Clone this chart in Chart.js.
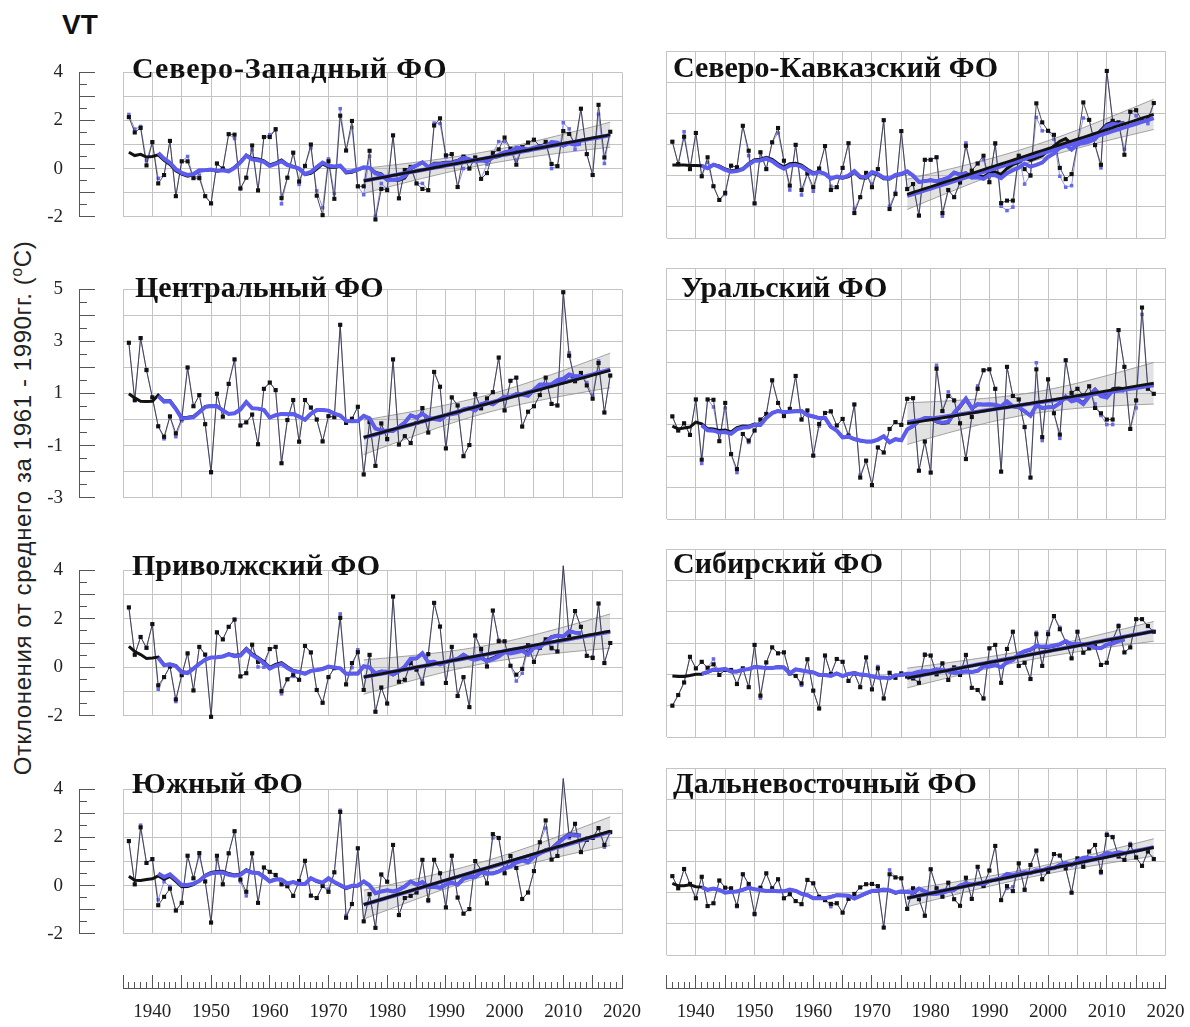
<!DOCTYPE html>
<html>
<head>
<meta charset="utf-8">
<script src="https://cdn.jsdelivr.net/npm/chart.js@4.4.1/dist/chart.umd.min.js"></script>
<style>
  html, body { margin: 0; padding: 0; background: #fff; }
  body { width: 1190px; height: 1027px; position: relative; overflow: hidden; }
  canvas { position: absolute; }
  .ttl { position: absolute; font: bold 30px "Liberation Serif", "Times New Roman", serif; line-height: 30px; white-space: nowrap; color: #111; }
  .vt { position: absolute; left: 62px; top: 11px; font: bold 28px "Liberation Sans", Arial, sans-serif; line-height: 28px; color: #111; }
  .ytitle { position: absolute; left: 22px; top: 508px; transform: translate(-50%, -50%) rotate(-90deg); white-space: nowrap;
            font: 24px "Liberation Sans", Arial, sans-serif; letter-spacing: 0.6px; color: #222; }
  .ytitle sup { font-size: 0.65em; }
</style>
</head>
<body>
<div class="vt">VT</div>
<div class="ytitle">Отклонения от среднего за 1961 - 1990гг. (<sup>о</sup>С)</div>
<script>
// Годы наблюдений
const years = [1936,1937,1938,1939,1940,1941,1942,1943,1944,1945,
  1946,1947,1948,1949,1950,1951,1952,1953,1954,1955,
  1956,1957,1958,1959,1960,1961,1962,1963,1964,1965,
  1966,1967,1968,1969,1970,1971,1972,1973,1974,1975,
  1976,1977,1978,1979,1980,1981,1982,1983,1984,1985,
  1986,1987,1988,1989,1990,1991,1992,1993,1994,1995,
  1996,1997,1998,1999,2000,2001,2002,2003,2004,2005,
  2006,2007,2008,2009,2010,2011,2012,2013,2014,2015,
  2016,2017,2018];

// Северо-Западный ФО
const nwBlack = [2.14,1.5,1.69,0.13,1.1,-0.62,-0.27,1.15,-1.15,0.3,
  0.3,-0.4,-0.4,-1.15,-1.45,0.21,0.0,1.43,1.41,-0.83,
  -0.38,0.96,-0.91,1.31,1.31,1.64,-1.23,-0.38,0.66,-0.54,
  0.11,1.0,-1.13,-1.94,0.3,-1.26,2.2,0.75,1.98,-0.74,
  -0.74,0.74,-2.12,-0.85,-0.9,1.38,-1.24,-0.06,0.07,-0.62,
  -0.85,-0.9,1.79,2.09,0.55,0.6,-0.77,0.5,0.0,0.46,
  -0.43,-0.19,0.64,0.8,1.29,0.82,0.16,0.89,1.08,1.2,
  0.93,1.11,0.19,0.1,1.56,1.44,1.04,2.49,0.6,-0.27,
  2.65,0.46,1.53];
const nwBlue = [2.25,1.64,1.75,0.34,1.1,-0.41,-0.27,1.15,-1.15,0.3,
  0.5,-0.4,-0.27,-1.15,-1.45,0.21,0.0,1.43,1.25,-0.83,
  -0.38,0.78,-0.91,1.31,1.41,1.6,-1.47,-0.38,0.66,-0.66,
  0.11,0.86,-0.93,-1.63,0.4,-1.04,2.49,0.75,1.71,-0.74,
  -1.09,0.51,-1.98,-0.62,-0.85,1.38,-1.24,-0.06,0.07,-0.62,
  -0.62,-0.9,1.89,1.87,0.48,0.6,-0.77,0.0,0.0,0.46,
  -0.43,0.18,0.64,1.12,1.12,0.82,0.35,0.89,1.08,1.2,
  0.93,1.11,0.0,0.1,1.91,1.65,0.8,2.49,0.6,-0.27,
  2.26,0.21,1.53];
const nwHead = [0.68,0.54,0.59,0.48,0.5];

// Центральный ФО
const cenBlack = [2.95,0.75,3.13,1.9,0.85,-0.26,-0.66,0.12,-0.53,0.03,
  2.0,0.51,0.94,-0.18,-2.02,0.99,0.11,1.37,2.31,-0.23,
  -0.11,0.19,-0.95,1.18,1.42,1.13,-1.68,-0.02,0.75,-0.85,
  0.75,0.46,0.0,-0.84,0.13,0.09,3.64,-0.13,0.03,0.49,
  -2.11,-0.1,-1.78,-0.15,-0.75,2.31,-0.96,-0.64,-0.9,-0.13,
  0.44,-0.5,1.83,1.26,-1.11,0.85,0.54,-1.41,-0.98,0.97,
  0.43,0.81,1.05,2.38,0.35,1.49,1.61,-0.27,0.3,0.51,
  0.94,1.61,0.6,0.54,4.89,2.45,1.47,1.79,1.31,0.8,
  2.17,0.27,1.69];
const cenBlue = [2.95,0.72,3.13,1.9,0.85,-0.26,-0.74,0.12,-0.66,-0.05,
  2.0,0.51,0.94,-0.18,-2.05,0.99,0.11,1.37,2.31,-0.23,
  -0.11,0.19,-0.95,1.18,1.42,1.13,-1.68,-0.02,0.75,-0.85,
  0.75,0.46,0.0,-0.84,0.13,0.09,3.64,-0.13,0.03,0.49,
  -2.11,-0.1,-1.78,-0.15,-0.78,2.31,-0.96,-0.64,-0.9,-0.13,
  0.44,-0.5,1.83,1.26,-1.11,0.85,0.54,-1.41,-0.98,0.97,
  0.43,0.81,1.05,2.38,0.35,1.49,1.61,-0.27,0.3,0.51,
  0.94,1.61,0.6,0.54,4.89,2.56,1.47,1.79,1.42,0.94,
  2.25,0.27,1.69];
const cenHead = [0.99,0.83,0.7,0.69,0.7];

// Приволжский ФО
const volBlack = [2.47,0.52,1.25,0.8,1.78,-0.75,-0.41,0.03,-1.33,-0.33,
  0.57,-0.96,0.84,0.52,-2.05,1.44,1.15,1.67,1.97,-0.38,
  -0.25,0.93,0.22,0.19,0.75,0.84,-0.99,-0.5,-0.31,-0.52,
  0.88,0.61,-0.94,-1.47,-0.41,-0.04,2.04,-0.71,0.17,0.62,
  -0.94,0.51,-1.84,-0.84,-1.5,2.92,-0.6,-0.52,0.17,-0.1,
  -0.68,0.54,2.66,1.68,-0.65,0.84,-1.19,-0.41,-1.65,1.31,
  0.75,0.03,2.34,1.07,1.07,0.06,-0.31,-0.07,0.91,0.22,
  0.8,1.15,0.8,0.65,4.19,1.28,2.32,1.67,0.47,0.38,
  2.63,0.17,1.0];
const volBlue = [2.47,0.49,1.25,0.8,1.78,-0.91,-0.41,0.03,-1.42,-0.33,
  0.57,-0.96,0.84,0.52,-2.05,1.44,1.15,1.67,1.97,-0.38,
  -0.25,0.93,0.01,0.0,0.75,0.84,-1.1,-0.5,-0.38,-0.52,
  0.88,0.61,-0.94,-1.47,-0.41,-0.04,2.2,-0.71,-0.02,0.72,
  -0.94,0.51,-1.84,-0.84,-1.5,2.92,-0.6,-0.52,0.17,-0.1,
  -0.57,0.54,2.66,1.68,-0.65,0.84,-1.19,-0.41,-1.65,1.31,
  0.65,0.03,2.34,1.12,1.07,0.06,-0.57,-0.25,0.8,0.22,
  0.8,1.15,0.75,0.65,4.19,1.28,2.32,1.67,0.47,0.43,
  2.63,0.17,1.0];
const volHead = [0.86,0.65,0.52,0.36,0.38];

// Южный ФО
const southBlack = [1.85,0.05,2.42,0.94,1.1,-0.82,-0.47,-0.13,-1.04,-0.72,
  1.24,0.3,1.35,0.17,-1.54,1.24,0.05,1.34,2.26,0.25,
  -0.26,1.34,-0.72,0.75,0.57,0.44,0.05,-0.03,-0.43,0.19,
  1.03,-0.42,-0.52,-0.02,-0.26,0.55,3.06,-1.34,-0.77,1.55,
  -1.49,-0.36,-1.76,0.46,0.16,1.69,-1.23,-0.52,-0.43,-0.29,
  1.07,-0.61,1.07,0.51,-0.91,1.24,-0.5,-1.17,-0.98,1.02,
  0.65,0.09,2.14,1.98,0.51,1.23,0.73,-0.56,-0.29,0.6,
  1.8,2.71,1.08,1.23,4.45,2.06,2.57,1.39,1.9,1.98,
  2.39,1.69,2.22];
const southBlue = [1.85,0.05,2.51,0.94,1.1,-0.59,0.16,-0.04,-1.04,-0.72,
  1.24,0.3,1.23,0.17,-1.54,1.08,0.05,1.34,2.26,0.16,
  -0.43,1.34,-0.72,0.75,0.57,0.44,0.05,-0.03,-0.43,0.19,
  1.03,-0.42,-0.52,-0.02,-0.15,0.55,3.13,-1.25,-0.77,1.55,
  -1.49,-0.36,-1.76,0.46,0.16,1.69,-1.23,-0.52,-0.43,-0.29,
  1.07,-0.66,1.07,0.51,-0.91,1.24,-0.5,-1.17,-0.98,1.02,
  0.65,0.09,1.98,1.98,0.51,1.23,0.73,-0.56,-0.29,0.6,
  1.8,2.39,1.08,1.23,4.45,1.98,2.57,1.39,1.98,1.98,
  2.39,1.6,2.22];
const southHead = [0.39,0.22,0.21,0.25,0.28];

// Северо-Кавказский ФО
const ncBlack = [1.09,0.37,1.25,0.21,1.37,-0.02,0.59,-0.34,-0.78,-0.55,
  0.32,0.27,1.6,0.8,-0.89,0.75,0.21,1.07,1.53,0.48,
  -0.32,0.99,-0.46,0.07,-0.37,0.23,0.95,-0.46,-0.37,0.25,
  1.04,-1.2,-0.69,0.09,-0.37,0.21,1.78,-1.07,-0.59,1.43,
  -0.43,-0.27,-1.28,0.51,0.51,0.59,-1.2,-0.46,-0.69,-0.22,
  0.96,0.16,0.39,0.64,-0.21,1.04,-0.88,-0.8,-0.8,0.64,
  0.21,0.0,2.32,1.71,1.44,1.31,0.25,-0.11,0.05,1.01,
  2.35,1.79,0.98,0.35,3.36,1.76,1.71,0.67,2.05,2.1,
  1.76,1.81,2.33];
const ncBlue = [1.09,0.37,1.41,0.21,1.37,-0.02,0.43,-0.34,-0.78,-0.6,
  0.32,0.27,1.6,0.64,-0.89,0.75,0.21,1.07,1.37,0.48,
  -0.46,0.99,-0.62,0.07,-0.5,0.23,0.95,-0.34,-0.37,0.25,
  1.04,-1.07,-0.69,0.09,-0.27,0.21,1.78,-0.98,-0.54,1.43,
  -0.43,-0.27,-1.28,0.51,0.51,0.59,-1.3,-0.46,-0.69,-0.22,
  1.05,0.16,0.39,0.51,-0.21,1.01,-0.98,-1.12,-1.01,0.64,
  -0.27,0.03,1.87,1.44,1.44,1.17,-0.02,-0.37,-0.32,1.01,
  1.85,1.79,0.98,0.25,3.36,1.76,1.71,0.85,2.05,1.92,
  1.76,1.67,2.33];
const ncHead = [0.34,0.34,0.34,0.33,0.33];

// Уральский ФО
const uralBlack = [0.27,-0.18,0.05,-0.32,0.81,-1.11,0.81,0.8,-0.52,0.7,
  -0.93,-1.41,-0.29,-0.5,-0.18,0.17,0.35,1.42,0.7,0.28,
  0.51,1.56,0.17,0.46,-0.98,0.03,0.38,0.43,-0.02,0.19,
  -0.34,0.65,-1.68,-1.14,-1.92,-0.72,-0.88,-0.13,0.09,0.0,
  0.83,0.85,-1.46,-0.53,-1.52,1.79,0.44,0.92,0.78,0.05,
  -1.09,0.25,1.15,1.74,1.77,1.15,-1.49,1.85,0.92,0.81,
  -0.07,-1.68,1.77,-0.39,1.45,0.37,-0.31,2.06,1.02,1.15,
  0.94,1.23,0.54,0.37,0.17,0.17,3.02,1.85,-0.13,0.78,
  3.74,1.15,0.99];
const uralBlue = [0.27,-0.18,0.05,-0.32,0.81,-1.23,0.81,0.57,-0.52,0.54,
  -0.93,-1.52,-0.29,-0.56,-0.18,0.17,0.35,1.42,0.7,0.28,
  0.51,1.56,0.17,0.46,-0.98,-0.04,0.38,0.43,-0.02,0.19,
  -0.34,0.65,-1.6,-1.14,-1.92,-0.72,-0.88,-0.13,0.09,0.0,
  0.83,0.85,-1.46,-0.53,-1.52,1.9,0.44,1.05,0.78,0.05,
  -1.09,0.25,1.24,1.74,1.77,1.15,-1.49,1.85,0.92,0.81,
  -0.07,-1.68,1.98,-0.5,1.45,0.37,-0.43,2.06,1.02,1.15,
  0.94,1.23,0.67,0.3,0.01,0.01,3.02,1.85,-0.13,0.54,
  3.52,1.15,0.99];
const uralHead = [-0.04,-0.13,-0.1,-0.07,0.09];

// Сибирский ФО
const sibBlack = [-1.0,-0.66,-0.26,0.56,0.19,0.4,0.21,0.32,-0.02,0.14,
  0.14,-0.31,0.19,-0.41,0.94,-0.68,0.38,0.86,0.67,0.7,
  0.03,-0.05,-0.29,0.48,-0.52,-1.09,0.6,0.01,0.49,0.4,
  -0.21,0.03,-0.41,0.54,-0.48,0.19,-0.77,0.05,-0.11,0.03,
  -0.07,-0.13,-0.27,0.62,0.6,0.0,0.35,-0.18,0.22,-0.02,
  0.62,-0.43,-0.5,-0.77,0.83,0.94,-0.27,0.81,1.36,0.27,
  0.37,-0.15,1.28,0.27,1.28,1.86,1.44,1.04,0.51,1.36,
  0.69,0.83,0.9,0.3,0.37,1.1,1.54,0.7,0.86,1.76,
  1.76,1.54,1.36];
const sibBlue = [-1.0,-0.66,-0.26,0.56,0.19,0.4,0.21,0.49,-0.02,0.14,
  0.14,-0.31,0.19,-0.41,0.94,-0.76,0.38,0.86,0.67,0.7,
  0.03,-0.05,-0.35,0.48,-0.52,-1.09,0.6,0.01,0.49,0.4,
  -0.21,0.03,-0.41,0.54,-0.48,0.25,-0.77,0.05,-0.11,0.03,
  -0.07,-0.13,-0.27,0.65,0.6,0.0,0.35,-0.18,0.22,-0.02,
  0.62,-0.43,-0.5,-0.77,0.83,0.94,-0.27,0.81,1.36,0.27,
  0.37,-0.15,1.34,0.27,1.36,1.86,1.5,1.04,0.51,1.36,
  0.69,0.83,0.9,0.3,0.37,1.1,1.57,0.7,0.86,1.76,
  1.76,1.54,1.36];
const sibHead = [-0.05,-0.07,-0.07,-0.04,0.0];

// Дальневосточный ФО
const feBlack = [0.53,0.14,0.76,0.28,-0.18,0.51,-0.43,-0.34,0.39,0.16,
  0.14,-0.42,0.59,0.28,-0.68,0.16,0.62,0.14,0.43,-0.18,
  -0.05,-0.27,-0.37,0.41,0.3,-0.13,-0.24,-0.36,-0.34,-0.64,
  -0.2,-0.04,0.17,0.27,0.28,0.21,-1.12,0.59,0.49,0.46,
  -0.52,0.14,-0.21,-0.74,0.75,0.14,-0.13,0.32,-0.21,-0.42,
  0.48,-0.2,0.83,0.21,0.71,1.5,-0.24,0.21,0.05,0.94,
  0.09,0.89,1.35,0.43,0.67,1.24,1.19,0.78,0.0,1.1,
  0.83,1.32,1.53,0.67,1.85,1.78,1.16,1.05,1.53,1.13,
  0.86,1.32,1.08];
const feBlue = [0.53,0.14,0.76,0.28,-0.18,0.51,-0.43,-0.34,0.39,0.16,
  0.14,-0.45,0.59,0.28,-0.71,0.16,0.62,0.14,0.43,-0.18,
  -0.05,-0.27,-0.37,0.41,0.3,-0.13,-0.24,-0.45,-0.34,-0.64,
  -0.2,-0.04,0.17,0.27,0.28,0.21,-1.12,0.73,0.49,0.46,
  -0.52,0.14,-0.21,-0.74,0.75,0.14,-0.13,0.32,-0.21,-0.42,
  0.48,-0.2,0.83,0.21,0.71,1.5,-0.24,0.14,0.19,0.94,
  0.12,0.89,1.35,0.43,0.67,1.24,1.19,0.78,0.0,1.1,
  0.83,1.32,1.53,0.62,1.9,1.8,1.16,1.05,1.58,1.13,
  0.86,1.32,1.08];
const feHead = [0.3,0.22,0.22,0.25,0.19];

// Оси: годы и подписи
const xMinYear = 1935, xMaxYear = 2020;
const trendFrom = 1976;
const tCrit = 2.02;         // 95 %, 41 степень свободы
const runWindow = 11;       // скользящее среднее

const GRID = '#c4c4c4';
const AXIS = '#555555';
const SERIF = "'Liberation Serif', 'Times New Roman', serif";
const BLUE = '#5c5cee';
const BLUE_PT = '#6a6ae6';
const BLUE_THIN = '#8888ea';

const panels = [
  { title: 'Северо-Западный ФО',   black: nwBlack,    blue: nwBlue,    head: nwHead,    min: -2, max: 4, labelFrom: 4, col: 0, top: 51,  bottom: 238, tBase: 78, ls: 0.9 },
  { title: 'Центральный ФО',       black: cenBlack,   blue: cenBlue,   head: cenHead,   min: -3, max: 5, labelFrom: 5, col: 0, top: 268, bottom: 519, tBase: 297, tDx: 3 },
  { title: 'Приволжский ФО',       black: volBlack,   blue: volBlue,   head: volHead,   min: -2, max: 4, labelFrom: 4, col: 0, top: 549, bottom: 737, tBase: 575 },
  { title: 'Южный ФО',             black: southBlack, blue: southBlue, head: southHead, min: -2, max: 4, labelFrom: 4, col: 0, top: 768, bottom: 955, tBase: 793 },
  { title: 'Северо-Кавказский ФО', black: ncBlack,    blue: ncBlue,    head: ncHead,    min: -2, max: 4, col: 1, top: 51,  bottom: 238, tBase: 77 },
  { title: 'Уральский ФО',         black: uralBlack,  blue: uralBlue,  head: uralHead,  min: -3, max: 5, col: 1, top: 268, bottom: 519, tBase: 297, tDx: 8 },
  { title: 'Сибирский ФО',         black: sibBlack,   blue: sibBlue,   head: sibHead,   min: -2, max: 4, col: 1, top: 549, bottom: 737, tBase: 573 },
  { title: 'Дальневосточный ФО',   black: feBlack,    blue: feBlue,    head: feHead,    min: -2, max: 4, col: 1, top: 768, bottom: 955, tBase: 793 }
];

const toPoints = vals => years.map((x, i) => ({ x, y: vals[i] }));

// Центрированное скользящее среднее; начальные значения берутся из head
function runningMean(vals, head) {
  const half = (runWindow - 1) / 2;
  const out = [];
  if (head) head.forEach((v, i) => out.push({ x: years[i], y: v }));
  for (let i = half; i < vals.length - half; i++) {
    let s = 0;
    for (let k = i - half; k <= i + half; k++) s += vals[k];
    out.push({ x: years[i], y: s / runWindow });
  }
  return out;
}

// Линейный тренд с 1976 г. и 95 % доверительный интервал
function trend(vals) {
  const i0 = years.indexOf(trendFrom);
  const xs = years.slice(i0), ys = vals.slice(i0);
  const n = xs.length;
  const mx = xs.reduce((a, b) => a + b, 0) / n;
  const my = ys.reduce((a, b) => a + b, 0) / n;
  let sxx = 0, sxy = 0;
  xs.forEach((x, i) => { sxx += (x - mx) ** 2; sxy += (x - mx) * (ys[i] - my); });
  const b = sxy / sxx, a = my - b * mx;
  let sse = 0;
  xs.forEach((x, i) => { sse += (ys[i] - (a + b * x)) ** 2; });
  const s = Math.sqrt(sse / (n - 2));
  const line = [], lo = [], hi = [];
  xs.forEach(x => {
    const f = a + b * x;
    const h = tCrit * s * Math.sqrt(1 / n + (x - mx) ** 2 / sxx);
    line.push({ x, y: f }); lo.push({ x, y: f - h }); hi.push({ x, y: f + h });
  });
  return { line, lo, hi };
}

const PADV = 22;

function placeCanvas(left, top, w, h) {
  const cv = document.createElement('canvas');
  cv.width = w; cv.height = h;
  cv.style.left = left + 'px'; cv.style.top = top + 'px';
  cv.style.width = w + 'px'; cv.style.height = h + 'px';
  document.body.appendChild(cv);
  return cv;
}

function makePanel(p) {
  const left = p.col === 0;
  const cLeft = left ? 0 : 640, cW = left ? 630 : 550;
  const cv = placeCanvas(cLeft, p.top - PADV, cW, (p.bottom - p.top) + 2 * PADV);

  const tb = trend(p.black), tu = trend(p.blue);

  const datasets = [
    { data: tb.lo, borderColor: '#8c8c8c', borderWidth: 0.8, pointRadius: 0, fill: false, order: 7 },
    { data: tb.hi, borderColor: '#8c8c8c', borderWidth: 0.8, pointRadius: 0, fill: '-1', backgroundColor: 'rgba(150,150,150,0.28)', order: 6 },
    { data: toPoints(p.blue), borderColor: BLUE_THIN, borderWidth: 0.9, pointStyle: 'rect', pointRadius: 2.5,
      pointBackgroundColor: BLUE_PT, pointBorderWidth: 0, clip: false, order: 5 },
    { data: toPoints(p.black), borderColor: '#3a3a3a', borderWidth: 0.9, pointStyle: 'rect', pointRadius: 2.9,
      pointBackgroundColor: '#111', pointBorderWidth: 0, clip: false, order: 4 },
    { data: runningMean(p.black, p.head), borderColor: '#111', borderWidth: 3, pointRadius: 0, order: 3 },
    { data: runningMean(p.blue, null), borderColor: BLUE, borderWidth: 4, pointRadius: 0, order: 2 },
    { data: tu.line, borderColor: BLUE, borderWidth: 4, pointRadius: 0, order: 1 },
    { data: tb.line, borderColor: '#111', borderWidth: 2.8, pointRadius: 0, order: 0 }
  ];
  datasets.forEach(d => { d.xAxisID = 'x'; d.yAxisID = 'y'; d.tension = 0; if (d.fill === undefined) d.fill = false; });

  const scales = {
    x: { type: 'linear', axis: 'x', position: 'bottom', min: xMinYear, max: xMaxYear,
         ticks: { display: false, stepSize: 5, autoSkip: false },
         grid: { color: GRID, lineWidth: 1, drawTicks: false }, border: { display: false },
         afterFit(s) { s.height = 0; } },
    y: { type: 'linear', axis: 'y', position: 'left', min: p.min, max: p.max, weight: 0,
         ticks: { display: false, stepSize: 1, autoSkip: false },
         grid: { color: GRID, lineWidth: 1, drawTicks: false }, border: { display: false },
         afterFit(s) { s.width = left ? 44 : 0; } }
  };
  if (left) {
    scales.yMinor = { type: 'linear', axis: 'y', position: 'left', min: p.min, max: p.max, weight: 1,
      ticks: { stepSize: 0.5, autoSkip: false, font: { size: 4 }, callback: () => '' },
      grid: { drawOnChartArea: false, tickLength: -8, color: AXIS, lineWidth: 1 }, border: { display: false },
      afterFit(s) { s.width = 0; } };
    scales.yMajor = { type: 'linear', axis: 'y', position: 'left', min: p.min, max: p.max, weight: 2,
      ticks: { stepSize: 1, autoSkip: false, padding: 32, color: '#222', font: { family: SERIF, size: 19 },
               callback: v => (Math.abs(Math.round(v - p.labelFrom)) % 2 === 0 ? String(v) : '') },
      grid: { drawOnChartArea: false, tickLength: -16, color: AXIS, lineWidth: 1 },
      border: { display: true, color: AXIS, width: 1 },
      afterFit(s) { s.width = 79; } };
  }

  new Chart(cv, {
    type: 'line',
    data: { datasets },
    options: {
      responsive: false, animation: false, devicePixelRatio: 1, events: [],
      layout: { padding: { left: left ? 0 : 26.5, right: left ? 8 : 24.5, top: PADV, bottom: PADV } },
      plugins: { legend: { display: false }, tooltip: { enabled: false } },
      scales
    }
  });

  const t = document.createElement('div');
  t.className = 'ttl';
  t.textContent = p.title;
  t.style.left = ((left ? 132 : 673) + (p.tDx || 0)) + 'px';
  t.style.top = (p.tBase - 25) + 'px';
  if (p.ls) t.style.letterSpacing = p.ls + 'px';
  document.body.appendChild(t);
}

// Шкала лет под колонкой графиков
function makeRuler(col) {
  // справа оставлен запас под половину подписи «2020» и отступ подписи
  const cLeft = col === 0 ? 0 : 640, cW = col === 0 ? 690 : 575;
  const cv = placeCanvas(cLeft, 950, cW, 77);
  new Chart(cv, {
    type: 'line',
    data: { datasets: [] },
    options: {
      responsive: false, animation: false, devicePixelRatio: 1, events: [],
      layout: { padding: { left: col === 0 ? 123 : 26.5, right: col === 0 ? 68 : 49.5, top: 0, bottom: 0 } },
      plugins: { legend: { display: false }, tooltip: { enabled: false } },
      scales: {
        y: { type: 'linear', display: false, min: 0, max: 1 },
        xMinor: { type: 'linear', axis: 'x', position: 'bottom', min: xMinYear, max: xMaxYear, weight: 0,
          ticks: { stepSize: 1, autoSkip: false, maxRotation: 0, font: { size: 4 }, callback: () => '' },
          grid: { drawOnChartArea: false, tickLength: -6, color: AXIS, lineWidth: 1 }, border: { display: false },
          afterFit(s) { s.height = 0; } },
        xMajor: { type: 'linear', axis: 'x', position: 'bottom', min: xMinYear, max: xMaxYear, weight: 1,
          ticks: { stepSize: 5, autoSkip: false, maxRotation: 0, padding: 26, color: '#222', font: { family: SERIF, size: 19 },
                   callback: v => (v % 10 === 0 && v > xMinYear ? String(v) : '') },
          grid: { drawOnChartArea: false, tickLength: -13, color: AXIS, lineWidth: 1 },
          border: { display: true, color: AXIS, width: 1 },
          afterFit(s) { s.height = 39; } }
      }
    }
  });
}

panels.forEach(makePanel);
makeRuler(0);
makeRuler(1);
</script>
</body>
</html>
